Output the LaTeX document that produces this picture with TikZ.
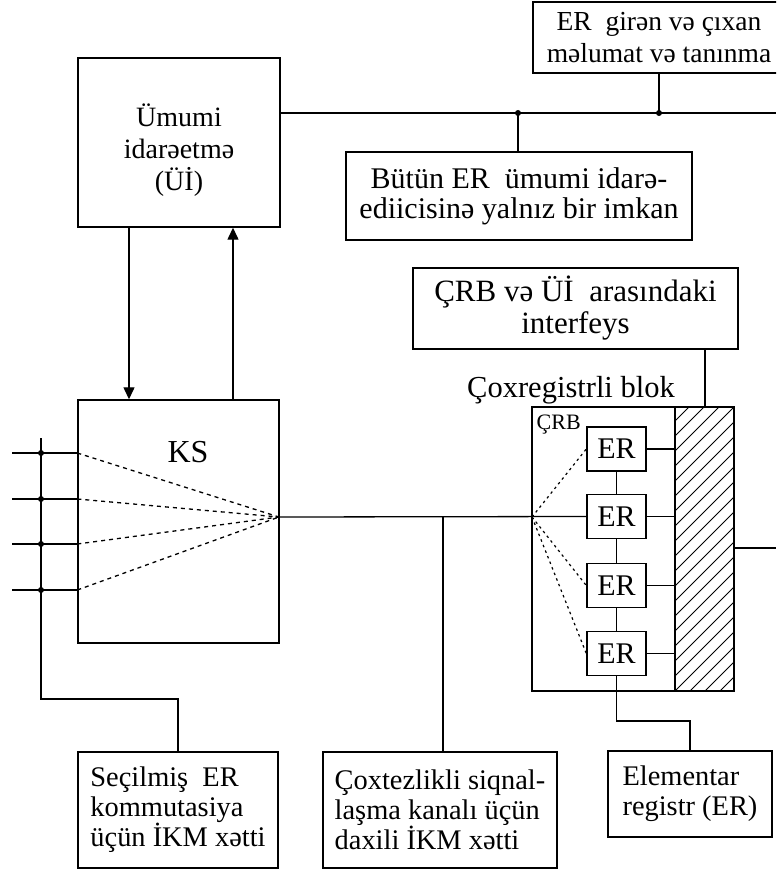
\documentclass[tikz,border=0pt]{standalone}
\usepackage{fontspec}
\setmainfont{Liberation Serif}
\usetikzlibrary{arrows.meta}

\begin{document}
\begin{tikzpicture}[x=1pt,y=-1pt,line width=1.3pt,
		blk/.style={draw,line width=1.4pt,inner sep=0pt,align=center},
		reg/.style={draw,line width=1.4pt,inner sep=0pt,minimum width=59pt,minimum height=44pt,font=\fontsize{30}{30}\selectfont},
		note/.style={draw,line width=1.4pt,inner sep=0pt,align=left,font=\fontsize{28.4}{30}\selectfont},
		fan/.style={dash pattern=on 4pt off 4pt},
		fanin/.style={line width=1.2pt,dash pattern=on 2.5pt off 3.5pt},
		arr/.style={-{Triangle[length=12pt,width=11pt]}}]
			\useasboundingbox (0,0) rectangle (776,869);
			\clip (0,0) rectangle (776,869);

			% upper blocks
			\node[blk,minimum width=202pt,minimum height=169pt] (UI) at (179,142.5) {};
			\node[align=center,inner sep=0pt,font=\fontsize{28}{32}\selectfont] (UIt) at (179,150) {Ümumi\\idarəetmə\\(Üİ)};
			\node[blk,minimum width=252pt,minimum height=71pt,font=\fontsize{27.5}{32}\selectfont] (IO) at (659,37.5) {ER\ \ girən və çıxan\\məlumat və tanınma};
			\node[blk,minimum width=346pt,minimum height=88pt,font=\fontsize{30}{30}\selectfont] (ALL) at (519,196) {Bütün ER\ \ ümumi idarə-\\ediicisinə yalnız bir imkan};
			\node[blk,minimum width=325pt,minimum height=81pt,font=\fontsize{31}{32}\selectfont] (IF) at (575.5,308.5) {ÇRB və Üİ\ \ arasındaki\\interfeys};

			% switching stage
			\node[blk,minimum width=201pt,minimum height=243pt] (KS) at (178.5,521.5) {};
			\node[font=\fontsize{32}{32}\selectfont,anchor=base,inner sep=0pt] (KSt) at (188,462) {KS};

			% multi-register block
			\node[blk,minimum width=202pt,minimum height=284pt] (CRB) at (633,549) {};
			\node[font=\fontsize{22}{22}\selectfont,anchor=base west,inner sep=0pt] (CRBt) at (536,429) {ÇRB};
			\node[font=\fontsize{30.5}{31}\selectfont,anchor=base,inner sep=0pt] (CRBn) at (571,397) {Çoxregistrli blok};
			\node[reg] (ER1) at (616.5,449) {ER};
			\node[reg] (ER2) at (616.5,516.5) {ER};
			\node[reg] (ER3) at (616.5,585.5) {ER};
			\node[reg] (ER4) at (616.5,653.5) {ER};

			% lower notes
			\node[note,minimum width=200pt,minimum height=116pt] (SEL) at (178,810) {Seçilmiş\ \ ER\\kommutasiya\\üçün İKM xətti};
			\node[note,minimum width=234pt,minimum height=116pt] (SIG) at (440,810) {Çoxtezlikli siqnal-\\laşma kanalı üçün\\daxili İKM xətti};
			\node[note,minimum width=164pt,minimum height=86pt] (ELE) at (690,794) {Elementar\\registr (ER)};

			\coordinate (J1) at (518,113);
			\coordinate (J2) at (659,113);
			\coordinate (BE) at (776,113);
			\coordinate (L1) at (12,453);
			\coordinate (L2) at (12,499);
			\coordinate (L3) at (12,544);
			\coordinate (L4) at (12,590);
			\coordinate (BT) at (41,438);
			\coordinate (BB) at (41,699);
			\coordinate (KF) at (279,517);
			\coordinate (JM) at (443,517);
			\coordinate (CF) at (532,517);
			\coordinate (HT) at (675,407);
			\coordinate (HB) at (675,691);
			\coordinate (RO) at (734,548);
			\coordinate (RE) at (776,548);
			\coordinate (EB) at (616.5,721);

			% hatched interface strip
			\begin{scope}
				\clip (HT) rectangle (734,691);
				\foreach \s in {-300,-285,...,60}
					\draw[line width=1pt] (675+\s,691)--++(300,-300);
			\end{scope}
			\draw (HT)--(HB);

			\draw (UI.east |- J1)--(BE);
			\fill (J1) circle (3pt);
			\fill (J2) circle (3pt);
			\draw (J1)--(J1 |- ALL.north);
			\draw (J2)--(IO.south);
			\draw[arr] ([xshift=-50pt]UI.south)--([xshift=-50pt]UI.south |- KS.north);
			\draw[arr] ([xshift=54pt]UI.south |- KS.north)--([xshift=54pt]UI.south);
			\draw ([xshift=129.5pt]IF.south)--([xshift=129.5pt]IF.south |- CRB.north);

			\draw (BT)--(BB)-|(SEL.north);
			\foreach \i in {1,...,4} {
				\draw (L\i)--(KS.west |- L\i);
				\fill (BT |- L\i) circle (3pt);
				\draw[fan] (KS.west |- L\i)--(KF);
			}

			\draw (KF)--(ER2.west);
			\draw (JM)--(JM |- SIG.north);
			\foreach \n in {1,3,4}
				\draw[fanin] (CF)--(ER\n.west);
			\draw (ER1.south)--(ER2.north);
			\draw (ER2.south)--(ER3.north);
			\draw (ER3.south)--(ER4.north);
			\foreach \n in {1,...,4}
				\draw (ER\n.east)--(ER\n.east -| HT);
			\draw (RO)--(RE);
			\draw (ER4.south)--(EB)-|(ELE.north);
\end{tikzpicture}
\end{document}
